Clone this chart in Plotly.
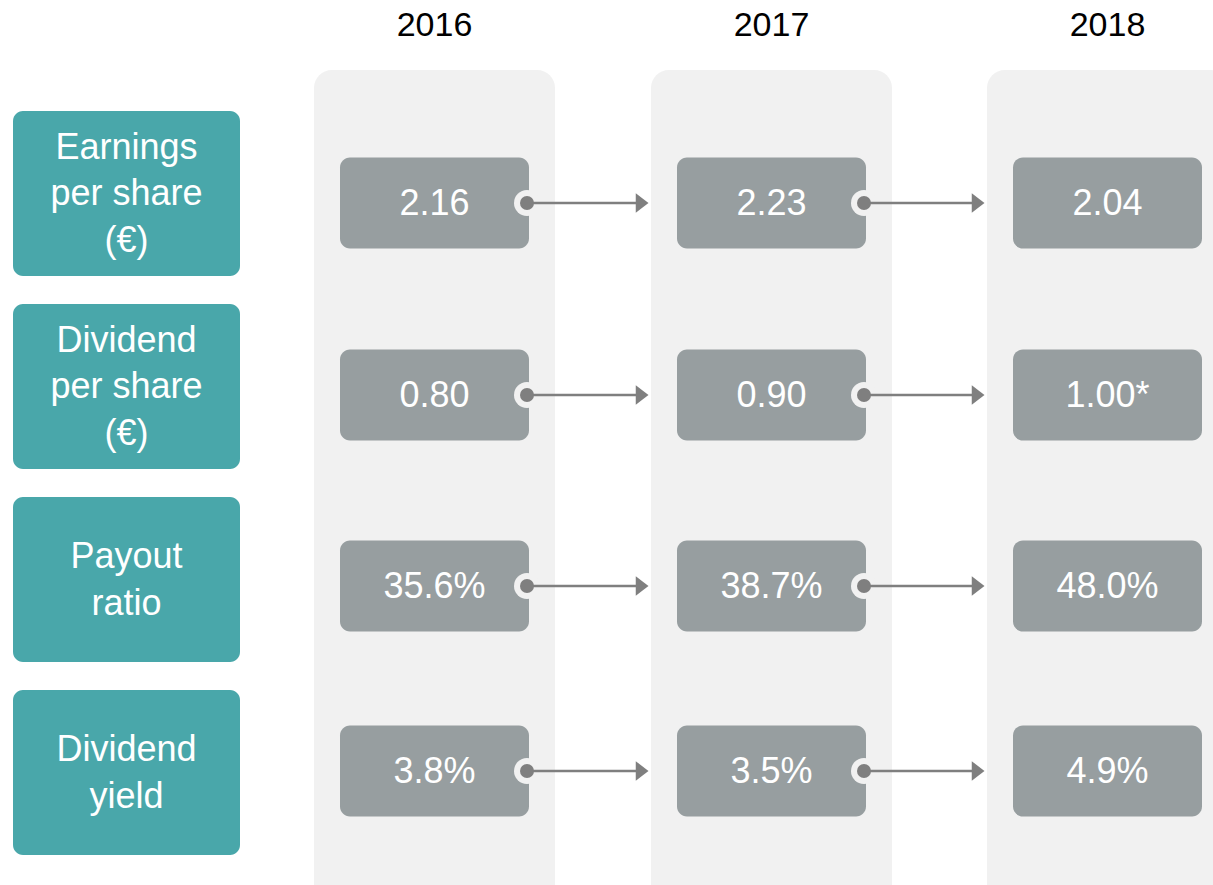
"""Dividend key figures 2016-2018 as a flow diagram."""

import plotly.graph_objects as go

# --- data -------------------------------------------------------------------
years = ["2016", "2017", "2018"]
metric_labels = [
    "Earnings<br>per share<br>(€)",
    "Dividend<br>per share<br>(€)",
    "Payout<br>ratio",
    "Dividend<br>yield",
]
earnings_per_share = [2.16, 2.23, 2.04]
dividend_per_share = [0.80, 0.90, 1.00]
payout_ratio = [35.6, 38.7, 48.0]
dividend_yield = [3.8, 3.5, 4.9]
footnotes = ["", "", "*"]  # proposed dividend for 2018

# --- layout (pixel space) ---------------------------------------------------
W, H = 1213, 885
COLORS = {
    "teal": "#49A7AA",
    "box": "#979EA0",
    "column": "#F1F1F1",
    "arrow": "#7F7F7F",
    "text": "#000000",
}
FONT = "Liberation Sans, Arial, sans-serif"

col_left = [314, 651, 987]
col_width = 241
col_top = 70
box_dx, box_w, box_h = 26, 189, 91
row_cy = [203, 395, 586, 771]
label_x0, label_x1 = 13, 240
label_top = [111, 304, 497, 690]
label_h = 165
text_dy = 3  # plotly centres text a little high


def rounded_rect(x0, y0, x1, y1, r):
    k = 0.5523 * r
    return (
        f"M{x0 + r},{y0} L{x1 - r},{y0} "
        f"C{x1 - r + k},{y0} {x1},{y0 + r - k} {x1},{y0 + r} "
        f"L{x1},{y1 - r} "
        f"C{x1},{y1 - r + k} {x1 - r + k},{y1} {x1 - r},{y1} "
        f"L{x0 + r},{y1} "
        f"C{x0 + r - k},{y1} {x0},{y1 - r + k} {x0},{y1 - r} "
        f"L{x0},{y0 + r} "
        f"C{x0},{y0 + r - k} {x0 + r - k},{y0} {x0 + r},{y0} Z"
    )


rows = [
    [f"{v:.2f}" for v in earnings_per_share],
    [f"{v:.2f}{n}" for v, n in zip(dividend_per_share, footnotes)],
    [f"{v:.1f}%" for v in payout_ratio],
    [f"{v:.1f}%" for v in dividend_yield],
]

fig = go.Figure()
shapes = []

# background columns
for x in col_left:
    shapes.append(dict(type="path", path=rounded_rect(x, col_top, x + col_width, H + 30, 18),
                       fillcolor=COLORS["column"], line_width=0, layer="below"))

# metric labels
for top in label_top:
    shapes.append(dict(type="path", path=rounded_rect(label_x0, top, label_x1, top + label_h, 10),
                       fillcolor=COLORS["teal"], line_width=0, layer="below"))

fig.add_trace(go.Scatter(
    x=[(label_x0 + label_x1) / 2] * len(metric_labels),
    y=[t + label_h / 2 + text_dy for t in label_top],
    mode="text", text=metric_labels,
    textfont=dict(family=FONT, size=36, color="white"),
    hoverinfo="skip", cliponaxis=False,
))

# value boxes
for i, cy in enumerate(row_cy):
    for j, x in enumerate(col_left):
        bx0 = x + box_dx
        shapes.append(dict(type="path",
                           path=rounded_rect(bx0, cy - box_h / 2, bx0 + box_w, cy + box_h / 2, 10),
                           fillcolor=COLORS["box"], line_width=0, layer="below"))
        if j < len(col_left) - 1:
            cx = bx0 + box_w - 2
            shapes.append(dict(type="circle", x0=cx - 13, x1=cx + 13, y0=cy - 13, y1=cy + 13,
                               fillcolor=COLORS["column"], line_width=0, layer="below"))

    fig.add_trace(go.Scatter(
        x=[x + box_dx + box_w / 2 for x in col_left],
        y=[cy + text_dy] * len(col_left),
        mode="text", text=rows[i],
        textfont=dict(family=FONT, size=36, color="white"),
        hoverinfo="skip", cliponaxis=False,
    ))

# arrows between years
for cy in row_cy:
    for j in range(len(col_left) - 1):
        start = col_left[j] + box_dx + box_w - 2
        tip = col_left[j + 1] - 3
        fig.add_trace(go.Scatter(
            x=[start, tip - 12], y=[cy, cy], mode="lines",
            line=dict(color=COLORS["arrow"], width=2.5), hoverinfo="skip",
        ))
        fig.add_trace(go.Scatter(
            x=[start], y=[cy], mode="markers",
            marker=dict(size=14, color=COLORS["arrow"]), hoverinfo="skip",
        ))
        fig.add_trace(go.Scatter(
            x=[tip - 8], y=[cy], mode="markers",
            marker=dict(size=17, symbol="triangle-right", color=COLORS["arrow"]),
            hoverinfo="skip",
        ))

# year headers
fig.add_trace(go.Scatter(
    x=[x + box_dx + box_w / 2 for x in col_left], y=[24 + text_dy] * len(years),
    mode="text", text=years,
    textfont=dict(family=FONT, size=34, color=COLORS["text"]),
    hoverinfo="skip", cliponaxis=False,
))

fig.update_layout(
    shapes=shapes,
    width=W, height=H,
    margin=dict(l=0, r=0, t=0, b=0),
    paper_bgcolor="white", plot_bgcolor="white",
    showlegend=False,
    xaxis=dict(range=[0, W], visible=False, fixedrange=True),
    yaxis=dict(range=[H, 0], visible=False, fixedrange=True),
)

# drop the page's default body margin so the figure fills the window exactly
fig.write_html("out.html", config={"displayModeBar": False},
               post_script="document.body.style.margin='0';")
